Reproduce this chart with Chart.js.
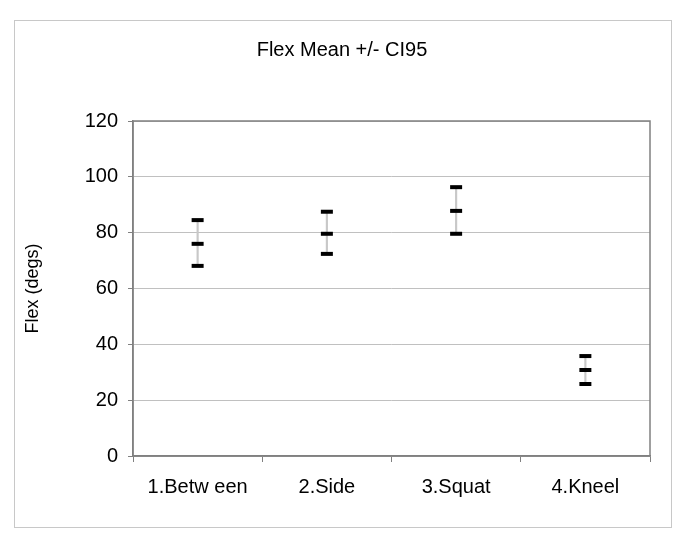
<!DOCTYPE html>
<html>
<head>
<meta charset="utf-8">
<script src="https://cdn.jsdelivr.net/npm/chart.js@4.4.1/dist/chart.umd.min.js"></script>
<style>
  html, body { margin: 0; padding: 0; background: #fff; }
  #wrap { width: 685px; height: 540px; }
</style>
</head>
<body>
<div id="wrap"><canvas id="chart" width="685" height="540"></canvas></div>
<script>
const categories = ["1.Betw een", "2.Side", "3.Squat", "4.Kneel"];
const upperValues = [84.5, 87.5, 96.3, 35.8];
const meanValues = [76.0, 79.6, 87.8, 30.8];
const lowerValues = [68.1, 72.4, 79.6, 25.8];
const yMax = 120;
const yStep = 20;

const font = "'Liberation Sans', Arial, sans-serif";

// outer chart border + plot area frame, like the spreadsheet chart
const framePlugin = {
  id: "frame",
  afterLayout(chart) {
    // title is centred on the whole chart box, not just the layout width
    if (chart.titleBlock) {
      chart.titleBlock.left = 0;
      chart.titleBlock.right = 684;
      chart.titleBlock.width = 684;
    }
  },
  beforeDraw(chart) {
    const c = chart.ctx;
    c.save();
    c.fillStyle = "#fff";
    c.fillRect(0, 0, chart.width, chart.height);
    c.strokeStyle = "#c8c8c8";
    c.lineWidth = 1;
    c.strokeRect(14.5, 20.5, 657, 507);
    c.restore();
  },
  beforeDatasetsDraw(chart) {
    const a = chart.chartArea;
    const c = chart.ctx;
    c.save();
    c.strokeStyle = "#808080";
    c.lineWidth = 1.5;
    c.strokeRect(a.left, a.top, a.right - a.left, a.bottom - a.top);
    c.restore();
  }
};

const markerSet = (label, values) => ({
  type: "line",
  label: label,
  data: values,
  showLine: false,
  pointStyle: "line",
  pointRadius: 6,
  pointBorderWidth: 4,
  pointBorderColor: "#000",
  borderColor: "#000",
  order: 1
});

const ctx = document.getElementById("chart").getContext("2d");
new Chart(ctx, {
  type: "bar",
  data: {
    labels: categories,
    datasets: [
      {
        label: "range",
        data: categories.map((_, i) => [lowerValues[i], upperValues[i]]),
        backgroundColor: "#c8c8c8",
        barThickness: 1.5,
        order: 5
      },
      markerSet("upper", upperValues),
      markerSet("mean", meanValues),
      markerSet("lower", lowerValues)
    ]
  },
  options: {
    responsive: false,
    animation: false,
    layout: { padding: { left: 0, right: 35, top: 0, bottom: 0 } },
    plugins: {
      legend: { display: false },
      tooltip: { enabled: false },
      title: {
        display: true,
        text: "Flex Mean +/- CI95",
        color: "#000",
        font: { family: font, size: 20, weight: "normal" },
        padding: { top: 38, bottom: 59 }
      }
    },
    scales: {
      x: {
        offset: true,
        grid: { offset: true, drawOnChartArea: false, tickLength: 6, color: "#808080" },
        border: { color: "#808080", width: 1.5 },
        ticks: { color: "#000", font: { family: font, size: 20 }, padding: 13 },
        afterFit: (scale) => { scale.height = 84; }
      },
      y: {
        min: 0,
        max: yMax,
        grid: { color: "#c0c0c0", tickLength: 5, tickColor: "#808080" },
        border: { color: "#808080", width: 1.5 },
        ticks: { stepSize: yStep, color: "#000", font: { family: font, size: 20 }, padding: 10 },
        title: {
          display: true,
          text: "Flex (degs)",
          color: "#000",
          font: { family: font, size: 18 },
          padding: { top: 22, bottom: 0 }
        },
        afterFit: (scale) => { scale.width = 133; }
      }
    }
  },
  plugins: [framePlugin]
});
</script>
</body>
</html>
